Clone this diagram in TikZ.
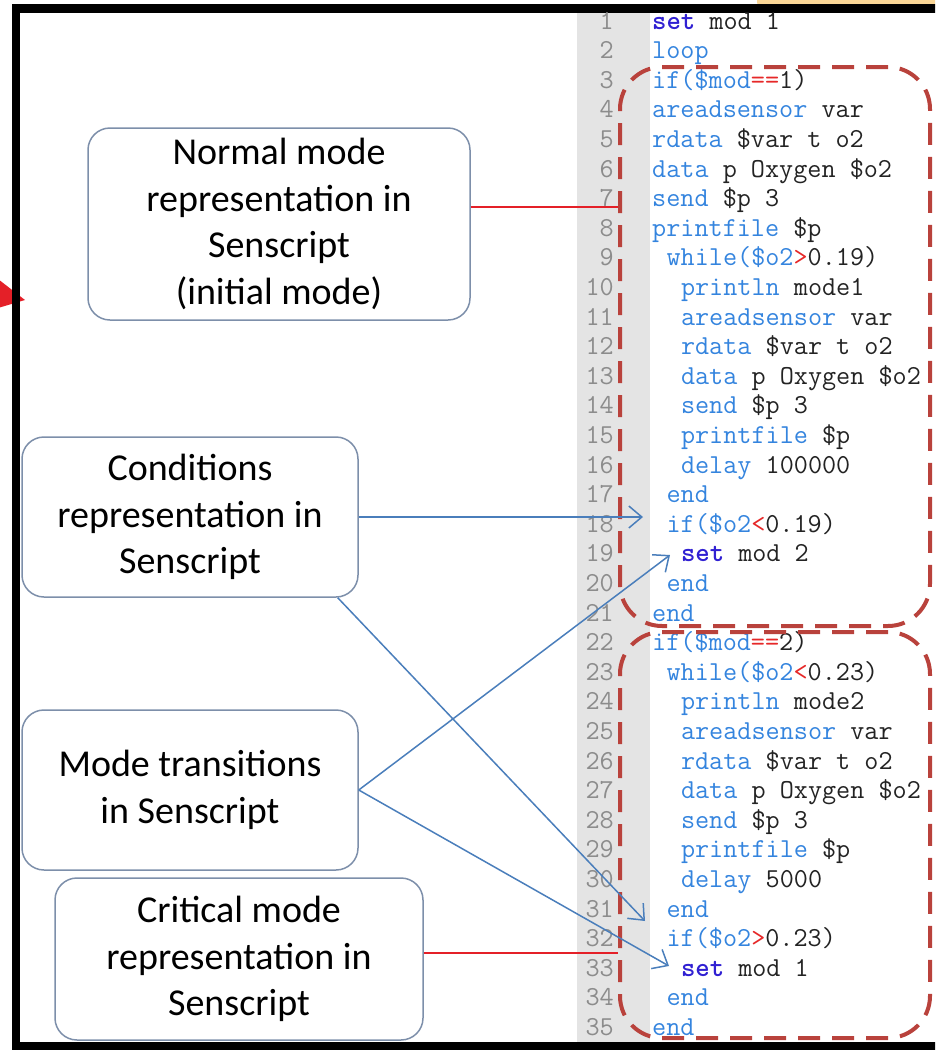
\documentclass[tikz,border=0pt]{standalone}
\usepackage{fontspec}
\newfontfamily\labelfont{Carlito}
\usetikzlibrary{arrows.meta,calc}

\definecolor{kwblue}{RGB}{52,132,222}
\definecolor{setblue}{RGB}{48,32,210}
\definecolor{opred}{RGB}{230,40,40}
\definecolor{codeblack}{RGB}{35,35,35}
\definecolor{numgray}{RGB}{140,140,140}
\definecolor{gutter}{RGB}{228,228,228}
\definecolor{boxedge}{RGB}{125,143,170}
\definecolor{arrowblue}{RGB}{74,126,187}
\definecolor{linkred}{RGB}{228,32,40}
\definecolor{modered}{RGB}{185,66,60}
\definecolor{topglow}{RGB}{250,214,150}

\newcommand\kw[1]{\textcolor{kwblue}{#1}}
\newcommand\kws[1]{\textcolor{setblue}{\bfseries #1}}
\newcommand\op[1]{\textcolor{opred}{#1}}

% one source line: number, indent level, highlighted text
\newcommand\codeln[3]{%
  \node[lnum] (n#1) at (614, {29+(#1-1)*29.6}) {#1};
  \node[codetext] (L#1) at ({652+#2*14.4}, {29+(#1-1)*29.6}) {#3};
}

\tikzset{
  note/.style={draw=boxedge, line width=1.5pt, rounded corners=22pt,
    align=center, inner sep=0pt, text=black,
    font=\labelfont\fontsize{38}{46.5}\selectfont},
  lnum/.style={anchor=base east, inner sep=0pt, text=numgray,
    font=\ttfamily\fontsize{27.4}{29.6}\selectfont},
  codetext/.style={anchor=base west, inner sep=0pt, text=codeblack,
    font=\ttfamily\fontsize{27.4}{29.6}\selectfont},
  modebox/.style={draw=modered, line width=4pt, rounded corners=42pt,
    dash pattern=on 22pt off 12pt, inner sep=0pt},
  redlink/.style={draw=linkred, line width=2.5pt},
  pointer/.style={draw=arrowblue, line width=1.5pt,
    -{Straight Barb[length=13pt,width=22pt]}},
}

\begin{document}
\begin{tikzpicture}[x=1pt,y=-1pt]
\useasboundingbox (0,0) rectangle (935,1050);
\clip (0,0) rectangle (935,1050);

% glow above the frame and the arrowhead entering from the left
\fill[topglow, rounded corners=6pt] (757,-10) rectangle (945,8);
\fill[linkred] (-2,279) -- (25,300) -- (-2,308) -- cycle;

% frame
\draw[line width=8.5pt] (16,8.3) rectangle (945,1046);

% editor gutter
\fill[gutter] (577,12.5) rectangle (650,1042);

% source listing
\codeln{1}{0}{\kws{set} mod 1}
\codeln{2}{0}{\kw{loop}}
\codeln{3}{0}{\kw{if(\$mod}\op{==}1)}
\codeln{4}{0}{\kw{areadsensor} var}
\codeln{5}{0}{\kw{rdata} \$var t o2}
\codeln{6}{0}{\kw{data} p Oxygen \$o2}
\codeln{7}{0}{\kw{send} \$p 3}
\codeln{8}{0}{\kw{printfile} \$p}
\codeln{9}{1}{\kw{while(\$o2}\op{>}0.19)}
\codeln{10}{2}{\kw{println} mode1}
\codeln{11}{2}{\kw{areadsensor} var}
\codeln{12}{2}{\kw{rdata} \$var t o2}
\codeln{13}{2}{\kw{data} p Oxygen \$o2}
\codeln{14}{2}{\kw{send} \$p 3}
\codeln{15}{2}{\kw{printfile} \$p}
\codeln{16}{2}{\kw{delay} 100000}
\codeln{17}{1}{\kw{end}}
\codeln{18}{1}{\kw{if(\$o2}\op{<}0.19)}
\codeln{19}{2}{\kws{set} mod 2}
\codeln{20}{1}{\kw{end}}
\codeln{21}{0}{\kw{end}}
\codeln{22}{0}{\kw{if(\$mod}\op{==}2)}
\codeln{23}{1}{\kw{while(\$o2}\op{<}0.23)}
\codeln{24}{2}{\kw{println} mode2}
\codeln{25}{2}{\kw{areadsensor} var}
\codeln{26}{2}{\kw{rdata} \$var t o2}
\codeln{27}{2}{\kw{data} p Oxygen \$o2}
\codeln{28}{2}{\kw{send} \$p 3}
\codeln{29}{2}{\kw{printfile} \$p}
\codeln{30}{2}{\kw{delay} 5000}
\codeln{31}{1}{\kw{end}}
\codeln{32}{1}{\kw{if(\$o2}\op{>}0.23)}
\codeln{33}{2}{\kws{set} mod 1}
\codeln{34}{1}{\kw{end}}
\codeln{35}{0}{\kw{end}}

% mode blocks
\node[modebox, minimum width=310pt, minimum height=559pt] (modeA) at (775,346.5) {};
\node[modebox, minimum width=310pt, minimum height=406pt] (modeB) at (775,835) {};

% explanation boxes
\node[note, minimum width=382pt, minimum height=192pt] (normal) at (279,224)
  {Normal mode\\representation in\\Senscript\\(initial mode)};
\node[note, minimum width=336pt, minimum height=160pt] (cond) at (190,517)
  {Conditions\\representation in\\Senscript};
\node[note, minimum width=336pt, minimum height=160pt] (trans) at (190,790)
  {Mode transitions\\in Senscript};
\node[note, minimum width=368pt, minimum height=162pt] (crit) at (239,959)
  {Critical mode\\representation in\\Senscript};

% arrow targets in the listing
\coordinate (c18) at (643,517);
\coordinate (c19) at (670,555);
\coordinate (c31) at (645,921);
\coordinate (c33) at (669,966);
\coordinate (p1) at ([yshift=17pt]normal.east);
\coordinate (p2) at ([yshift=6pt]crit.east);
\coordinate (p3) at ([xshift=-21pt]cond.south east);

% links
\draw[redlink] (p1) -- (p1 -| modeA.west);
\draw[redlink] (p2) -- (p2 -| modeB.west);
\draw[pointer] (cond.east) -- (c18);
\draw[pointer] (p3) -- (c31);
\draw[pointer] (trans.east) -- (c19);
\draw[pointer] (trans.east) -- (c33);
\end{tikzpicture}
\end{document}
